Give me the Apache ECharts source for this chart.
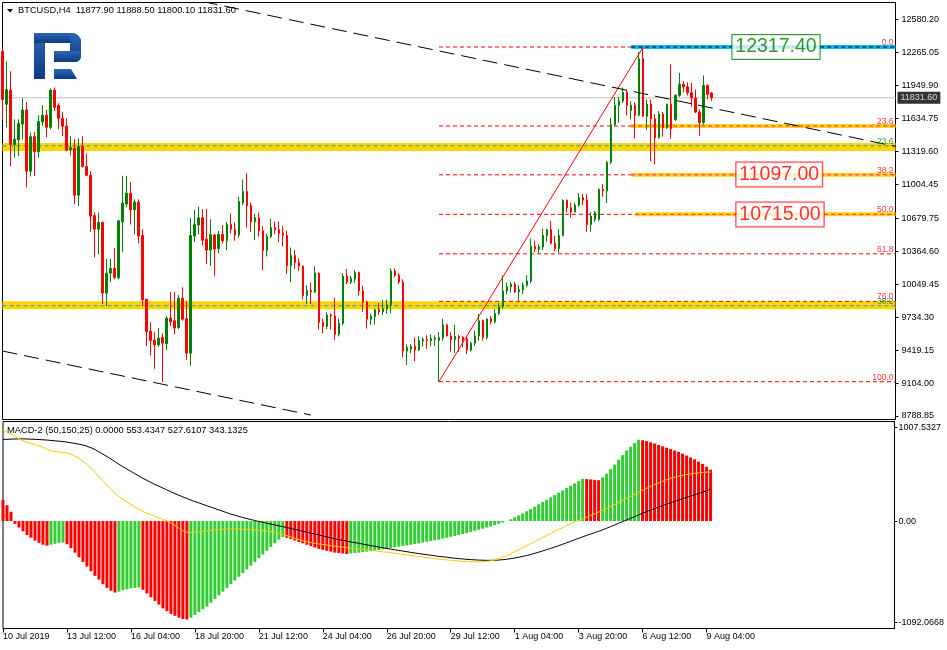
<!DOCTYPE html>
<html><head><meta charset="utf-8">
<script src="https://cdn.jsdelivr.net/npm/echarts@6/dist/echarts.min.js"></script>
<style>html,body{margin:0;padding:0;background:#fff}#c{width:947px;height:650px}</style>
</head><body><div id="c"></div>
<script>
// ---------------- data ----------------
const symbolTitle = 'BTCUSD,H4  11877.90 11888.50 11800.10 11831.60';
const macdTitle = 'MACD-2 (50,150,25) 0.0000 553.4347 527.6107 343.1325';
const dateLabels = ['10 Jul 2019','13 Jul 12:00','16 Jul 04:00','18 Jul 20:00','21 Jul 12:00','24 Jul 04:00','26 Jul 20:00','29 Jul 12:00','1 Aug 04:00','3 Aug 20:00','6 Aug 12:00','9 Aug 04:00'];
const labelStep = 16;
const totalSlots = 224;

const opens = [12275,11770,11905,11385,11430,11580,11715,11130,11460,11315,
11600,11665,11550,11905,11760,11635,11560,11335,11350,10900,
11365,11175,11090,10705,10575,10640,9965,10155,10200,10110,
10645,10815,10920,10760,10835,10515,9905,9600,9515,9470,
9540,9480,9725,9700,9635,9915,9720,9390,10510,10615,
10685,10480,10375,10520,10390,10525,10465,10620,10575,10520,
10825,10935,10800,10645,10685,10560,10370,10505,10590,10570,
10540,10515,10225,10325,10255,10220,9940,9990,9975,10155,
9685,9645,9755,9745,9570,9675,10125,10070,10100,10160,
9985,9880,9715,9740,9805,9785,9815,9850,10175,10135,
10070,9410,9430,9455,9420,9505,9520,9510,9525,9510,
9535,9660,9555,9520,9550,9540,9525,9420,9485,9555,
9700,9540,9720,9690,9770,9835,9985,10025,10050,9975,
9995,10040,10080,10410,10385,10405,10515,10570,10440,10390,
10515,10850,10780,10740,10805,10875,10855,10620,10670,10670,
10955,10940,11215,11575,11760,11800,11885,11710,11760,11665,
12205,11655,11770,11630,11450,11675,11545,11770,11625,11855,
11960,11935,11880,11830,11695,11595,11950,11877.9];
const highs = [12315,12180,12085,11625,11625,11825,11790,11500,11505,11665,
11760,11715,11920,11930,11780,11695,11635,11465,11435,11445,
11465,11300,11130,10735,10735,10650,10290,10290,10395,10660,
11085,11085,11025,10860,10860,10575,9910,9685,9590,9630,
9580,9745,9975,9975,9945,10020,9890,10680,10760,10790,
10765,10770,10670,10530,10560,10615,10645,10725,10640,10885,
11050,11110,10830,10720,10735,10605,10530,10675,10650,10650,
10605,10560,10400,10375,10295,10230,10040,10065,10220,10160,
9720,9780,9770,9920,9720,10155,10195,10130,10185,10170,
10035,9890,9765,9815,9870,9900,9900,10200,10200,10155,
10095,9475,9475,9540,9555,9540,9560,9570,9560,9590,
9720,9670,9590,9660,9565,9555,9555,9500,9605,9765,
9710,9725,9745,9810,9870,10130,10065,10070,10070,10040,
10065,10135,10485,10465,10430,10580,10580,10655,10510,10575,
10860,10860,10830,10830,10920,10910,10910,10740,10750,10965,
11005,11225,11640,11840,11840,11930,11910,11800,11785,12270,
12317.4,11815,11815,11675,11705,11695,11775,12150,11865,12070,
11990,11980,11975,11910,11720,12045,11960,11888.5];
const lows = [11625,11550,11175,11260,11275,11435,10975,11080,11085,11260,
11560,11455,11530,11705,11530,11465,11320,11280,10815,10795,
11165,11080,10550,10305,10335,9860,9840,10070,10095,10095,
10355,10785,10620,10525,10440,9840,9460,9370,9240,9450,
9115,9420,9650,9570,9620,9700,9325,9270,10455,10525,
10420,10240,10225,10125,10345,10440,10375,10535,10465,10495,
10805,10590,10550,10470,10505,10185,10315,10490,10525,10450,
10410,10145,10070,10195,10175,9905,9860,9860,9965,9615,
9580,9620,9615,9515,9550,9655,10050,10050,10060,9940,
9785,9625,9660,9665,9755,9755,9765,9770,10115,10050,
9350,9275,9390,9315,9410,9455,9430,9455,9460,9117,
9510,9550,9405,9390,9405,9445,9380,9405,9460,9510,
9510,9520,9665,9675,9755,9815,9955,9970,9965,9890,
9955,10020,10060,10355,10350,10375,10455,10430,10365,10350,
10505,10735,10685,10735,10790,10805,10550,10550,10645,10655,
10885,10825,11195,11555,11595,11780,11665,11625,11440,11655,
11650,11525,11225,11195,11440,11460,11535,11440,11610,11840,
11885,11855,11745,11685,11465,11575,11815,11800.1];
const closes = [11815,11910,11385,11435,11585,11715,11130,11460,11315,11605,
11665,11550,11905,11740,11635,11560,11330,11355,10900,11365,
11175,11090,10700,10575,10640,9965,10155,10200,10115,10655,
10825,10920,10760,10835,10510,9900,9595,9510,9470,9535,
9485,9725,9690,9630,9915,9715,9390,10515,10620,10685,
10470,10375,10525,10385,10525,10465,10620,10575,10520,10840,
10935,10800,10645,10685,10560,10370,10505,10590,10570,10535,
10515,10225,10325,10255,10220,9940,9990,9975,10155,9685,
9645,9755,9745,9570,9675,10125,10070,10105,10160,9985,
9880,9715,9740,9805,9785,9815,9850,10175,10135,10070,
9410,9445,9455,9420,9510,9520,9510,9530,9535,9540,
9660,9555,9520,9550,9535,9515,9420,9485,9555,9700,
9540,9715,9690,9770,9835,9985,10025,10050,9975,9995,
10040,10080,10410,10385,10405,10515,10570,10440,10390,10515,
10850,10780,10740,10805,10875,10855,10620,10700,10735,10955,
10940,11215,11575,11760,11800,11885,11760,11760,11665,12205,
11655,11770,11630,11450,11675,11545,11770,11535,11855,11960,
11935,11880,11830,11695,11595,11950,11865,11831.6];

const priceTicks = [12580.20,12265.05,11949.90,11634.75,11319.60,11004.45,10679.75,10364.60,10049.45,9734.30,9419.15,9104.00,8788.85];
const macdTicks = [1007.5327, 0, -1092.0668];

const macdHist = [230,170,100,-30,-70,-110,-150,-180,-210,-235,
-255,-265,-255,-245,-235,-230,-250,-290,-340,-390,
-440,-490,-540,-590,-630,-680,-720,-750,-770,-760,
-745,-735,-725,-720,-715,-740,-780,-820,-860,-900,
-940,-970,-1000,-1020,-1040,-1055,-1060,-1040,-1010,-980,
-950,-920,-880,-840,-800,-760,-720,-680,-640,-600,
-560,-520,-480,-440,-400,-360,-320,-280,-240,-200,
-170,-180,-195,-210,-225,-240,-255,-270,-285,-300,
-310,-320,-330,-340,-345,-350,-355,-350,-345,-340,
-335,-330,-325,-318,-312,-305,-298,-290,-282,-275,
-268,-262,-255,-248,-240,-232,-224,-216,-208,-200,
-190,-180,-170,-160,-150,-140,-130,-118,-106,-94,
-82,-70,-58,-44,-30,-15,2,20,40,60,
82,105,130,155,180,205,230,255,280,305,
330,355,380,405,430,455,452,448,444,440,
470,510,560,610,660,710,760,800,840,875,
870,860,848,835,820,805,790,775,760,745,
725,705,685,665,640,615,585,553];
const macdSignal = [985,960,935,910,885,865,848,835,825,810,
795,775,755,748,743,740,735,720,700,675,
645,610,570,525,475,430,385,340,300,265,
235,205,178,152,128,105,85,68,52,35,
17,0,-20,-45,-75,-105,-120,-125,-120,-115,
-110,-105,-100,-95,-90,-88,-86,-85,-85,-86,
-88,-90,-93,-96,-100,-104,-108,-113,-120,-130,
-144,-158,-172,-186,-200,-212,-222,-232,-240,-246,
-252,-258,-264,-270,-276,-281,-286,-291,-296,-301,
-306,-311,-316,-321,-326,-331,-336,-341,-346,-352,
-358,-364,-370,-376,-382,-388,-394,-400,-405,-410,
-414,-418,-422,-426,-430,-434,-436,-438,-440,-440,
-438,-434,-428,-418,-405,-390,-372,-352,-330,-308,
-286,-264,-242,-220,-198,-176,-154,-132,-110,-90,
-70,-50,-30,-10,8,25,42,60,78,96,
115,135,156,178,200,222,244,266,288,310,
332,352,372,392,410,428,445,460,472,483,
493,501,508,514,519,523,526,528];
const macdSlow = [880,880,882,884,885,885,884,882,880,878,
875,872,868,864,860,856,850,843,836,828,
818,806,790,770,745,720,695,668,640,612,
585,560,535,510,485,460,438,416,395,375,
355,335,315,296,278,260,243,226,210,195,
180,165,150,135,120,105,90,75,62,50,
38,27,16,6,-4,-14,-24,-33,-42,-51,
-60,-70,-80,-90,-100,-110,-120,-130,-140,-150,
-160,-170,-180,-190,-200,-208,-216,-224,-232,-240,
-248,-256,-264,-272,-280,-288,-295,-302,-309,-316,
-323,-330,-337,-344,-350,-356,-362,-368,-374,-380,
-385,-390,-395,-400,-404,-408,-412,-415,-418,-420,
-422,-423,-423,-422,-420,-416,-411,-405,-398,-390,
-381,-371,-360,-348,-335,-322,-308,-294,-280,-265,
-250,-234,-218,-202,-186,-170,-155,-140,-125,-110,
-95,-78,-60,-42,-24,-6,12,30,48,66,
84,101,118,134,150,166,182,197,212,227,
241,255,269,283,297,310,327,343];

const currentPrice = 11831.60;
const fibLowBar = 109, fibLowPrice = 9117;
const fibHighBar = 160, fibHighPrice = 12317.40;
const fibLevels = [0, 23.6, 38.2, 50, 61.8, 76, 100];
const fibLevelText = ['0.0','23.6','38.2','50.0','61.8','76.0','100.0'];
const bandPrices = [11360, 9848];
const bandDashPrices = [11372, 9843];
const bandDashLabels = ['23.6', '38.2'];
const shortBandLevels = [23.6, 38.2, 50];
const shortBandStart = [157, 157, 158];
const topBandStart = 157;
const upperTrend = [[50, 12752], [223, 11367]];
const lowerTrend = [[0, 9410], [77, 8798]];
const priceBoxes = [
  {text: '12317.40', price: 12317.40, color: '#008000', bar: 183},
  {text: '11097.00', price: 11097.00, color: '#FF0000', bar: 184},
  {text: '10715.00', price: 10715.00, color: '#FF0000', bar: 184}
];

// ---------------- chart ----------------
const lastSlot = totalSlots - 1;
const cats = [];
for (let i = 0; i < totalSlots; i++) cats.push(String(i));
const labelFor = v => { const i = +v; return (i % labelStep === 0 && i / labelStep < dateLabels.length) ? dateLabels[i / labelStep] : ''; };
const isTick = (i) => i % labelStep === 0 && i / labelStep < dateLabels.length;

const fibPrice = lv => fibHighPrice - (fibHighPrice - fibLowPrice) * lv / 100;
const FONT = 'Liberation Sans, Arial, sans-serif';

function seg(data, color, width, type, z) {
  return {type: 'line', xAxisIndex: 0, yAxisIndex: 0, data: data, symbol: 'none', silent: true,
    lineStyle: {color: color, width: width, type: type || 'solid', cap: 'butt'}, z: z, animation: false};
}

const series = [];
series.push(seg([[0, currentPrice], [lastSlot, currentPrice]], '#C0C0C0', 1, 'solid', 1));
bandPrices.forEach(p => series.push(seg([[0, p], [lastSlot, p]], '#FFD700', 8, 'solid', 1)));
bandDashPrices.forEach(p => series.push(seg([[0, p], [lastSlot, p]], '#1E90FF', 1, [4, 3], 2)));
fibLevels.forEach(lv => series.push(seg([[fibLowBar, fibPrice(lv)], [lastSlot, fibPrice(lv)]], '#FF0000', 1, [4, 3], 2)));
shortBandLevels.forEach((lv, k) => {
  series.push(seg([[shortBandStart[k], fibPrice(lv)], [lastSlot, fibPrice(lv)]], '#FFD700', 4, 'solid', 3));
  series.push(seg([[shortBandStart[k], fibPrice(lv)], [lastSlot, fibPrice(lv)]], '#FF00FF', 1, [4, 3], 3));
});
series.push(seg([[topBandStart, fibHighPrice], [lastSlot, fibHighPrice]], '#00BFFF', 4, 'solid', 3));
series.push(seg([[topBandStart, fibHighPrice], [lastSlot, fibHighPrice]], '#000000', 1, [4, 3], 3));
series.push(seg([[fibLowBar, fibLowPrice], [fibHighBar, fibHighPrice]], '#FF0000', 1, 'solid', 6));
series.push(seg(upperTrend, '#000000', 1, [15, 7], 6));
series.push(seg(lowerTrend, '#000000', 1, [15, 7], 6));

series.push({
  type: 'candlestick', xAxisIndex: 0, yAxisIndex: 0, z: 5, animation: false, silent: true,
  barWidth: 2,
  data: opens.map((o, i) => [o, closes[i], lows[i], highs[i]]),
  itemStyle: {color: '#008000', color0: '#FF0000', borderColor: '#008000', borderColor0: '#FF0000', borderWidth: 1}
});

const lvlLabels = fibLevels.map((lv, k) => ({value: [lastSlot, fibPrice(lv)], name: fibLevelText[k], label: {color: '#FF0000'}}))
  .concat(bandDashPrices.map((p, k) => ({value: [lastSlot, p], name: bandDashLabels[k], label: {color: '#009000'}})));
series.push({
  type: 'scatter', xAxisIndex: 0, yAxisIndex: 0, z: 8, silent: true, animation: false,
  symbolSize: 0, data: lvlLabels,
  label: {show: true, position: 'top', align: 'right', distance: 0, offset: [-2, 0], formatter: '{b}', fontSize: 8.5, fontFamily: FONT}
});
series.push({
  type: 'scatter', xAxisIndex: 0, yAxisIndex: 0, z: 9, silent: true, animation: false,
  symbolSize: 0,
  data: priceBoxes.map(b => ({value: [b.bar, b.price], name: b.text,
    label: {color: b.color, borderColor: b.color}})),
  label: {show: true, position: 'right', distance: 0, offset: [-3, 0], formatter: '{b}', fontSize: 19.5, fontFamily: FONT,
    backgroundColor: '#FFFFFF', borderWidth: 1, padding: [3, 3, 1, 3], lineHeight: 20}
});
series.push({
  type: 'scatter', xAxisIndex: 0, yAxisIndex: 0, z: 9, silent: true, animation: false,
  symbolSize: 0, data: [{value: [lastSlot, currentPrice], name: currentPrice.toFixed(2)}],
  label: {show: true, position: 'right', distance: 2, formatter: '{b}', fontSize: 9, fontFamily: FONT,
    color: '#FFFFFF', backgroundColor: '#000000', padding: [2, 3, 1, 3]}
});

series.push({
  type: 'bar', xAxisIndex: 1, yAxisIndex: 1, barWidth: 3, animation: false, silent: true, z: 2,
  data: macdHist.map((v, i) => ({value: v, itemStyle: {color: (i > 0 && v >= macdHist[i - 1]) ? '#32CD32' : '#FF0000'}}))
});
series.push({type: 'line', xAxisIndex: 1, yAxisIndex: 1, data: macdSlow, symbol: 'none', silent: true, animation: false, z: 3,
  lineStyle: {color: '#000000', width: 1}});
series.push({type: 'line', xAxisIndex: 1, yAxisIndex: 1, data: macdSignal, symbol: 'none', silent: true, animation: false, z: 4,
  lineStyle: {color: '#FFCC00', width: 1}});

const logoFill = new echarts.graphic.LinearGradient(0, 0, 0, 1, [{offset: 0, color: '#2E66B5'}, {offset: 1, color: '#0B3A82'}]);

const option = {
  animation: false,
  backgroundColor: '#FFFFFF',
  textStyle: {fontFamily: FONT},
  grid: [
    {left: 2.5, right: 51.5, top: 2.5, height: 417, show: true, borderColor: '#000', borderWidth: 1, backgroundColor: 'transparent'},
    {left: 2.5, right: 51.5, top: 421.5, height: 207, show: true, borderColor: '#000', borderWidth: 1, backgroundColor: 'transparent'}
  ],
  xAxis: [
    {type: 'category', gridIndex: 0, data: cats, boundaryGap: false, show: false},
    {type: 'category', gridIndex: 1, data: cats, boundaryGap: false, position: 'bottom',
      axisLine: {show: true, onZero: false, lineStyle: {color: '#000'}},
      axisTick: {show: true, length: 4, interval: (i) => isTick(i), lineStyle: {color: '#000'}},
      axisLabel: {show: true, interval: (i) => isTick(i), formatter: labelFor, align: 'left', margin: 4,
        fontSize: 9, color: '#000', fontFamily: FONT, hideOverlap: false},
      splitLine: {show: false}}
  ],
  yAxis: [
    {type: 'value', gridIndex: 0, position: 'right', min: 8755.4, max: 12742.8, scale: true,
      axisLine: {show: true, lineStyle: {color: '#000'}},
      axisTick: {show: true, length: 3, customValues: priceTicks, lineStyle: {color: '#000'}},
      axisLabel: {show: true, customValues: priceTicks, formatter: v => v.toFixed(2), margin: 6, fontSize: 9, color: '#000', fontFamily: FONT},
      splitLine: {show: false}},
    {type: 'value', gridIndex: 1, position: 'right', min: -1157, max: 1072,
      axisLine: {show: true, lineStyle: {color: '#000'}},
      axisTick: {show: true, length: 3, customValues: macdTicks, lineStyle: {color: '#000'}},
      axisLabel: {show: true, customValues: macdTicks, formatter: v => v === 0 ? '0.00' : v.toFixed(4), margin: 4, fontSize: 9, color: '#000', fontFamily: FONT},
      splitLine: {show: false}}
  ],
  series: series,
  graphic: [
    {type: 'polygon', shape: {points: [[7, 9], [13, 9], [10, 12.5]]}, style: {fill: '#000'}, silent: true},
    {type: 'text', left: 18, top: 6, style: {text: symbolTitle, fontSize: 9.3, fontFamily: FONT, fill: '#000'}, silent: true},
    {type: 'text', left: 7, top: 426, style: {text: macdTitle, fontSize: 9.3, fontFamily: FONT, fill: '#000'}, silent: true, z: 10},
    {type: 'group', silent: true, children: [
      {type: 'rect', shape: {x: 34, y: 33, width: 11, height: 46}, style: {fill: logoFill}},
      {type: 'rect', shape: {x: 34, y: 33, width: 47, height: 10, r: [0, 9, 0, 0]}, style: {fill: logoFill}},
      {type: 'rect', shape: {x: 70, y: 33, width: 11, height: 29, r: [0, 9, 6, 0]}, style: {fill: logoFill}},
      {type: 'rect', shape: {x: 54, y: 51, width: 27, height: 11, r: [0, 0, 6, 0]}, style: {fill: logoFill}},
      {type: 'polygon', shape: {points: [[54, 69], [71, 69], [77, 79], [54, 79]]}, style: {fill: logoFill}}
    ]}
  ]
};

const chart = echarts.init(document.getElementById('c'), null, {renderer: 'canvas'});
chart.setOption(option);
</script>
</body></html>
